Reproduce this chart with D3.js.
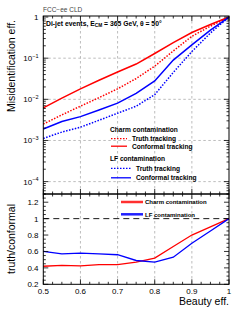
<!DOCTYPE html>
<html>
<head>
<meta charset="utf-8">
<script src="https://cdn.jsdelivr.net/npm/d3@7"></script>
<style>
  body { margin: 0; background: #fff; }
  text { font-family: "Liberation Sans", Arial, sans-serif; }
</style>
</head>
<body>
<svg id="chart" width="249" height="324"></svg>
<script>
// beauty efficiency points
var beautyEff = [0.5, 0.55, 0.6, 0.65, 0.7, 0.75, 0.8, 0.85, 0.9, 0.95, 1.0];

// misidentification efficiencies
var charmConformal = [0.0062, 0.0107, 0.018, 0.029, 0.046, 0.072, 0.13, 0.24, 0.42, 0.66, 1.0];
var charmTruth     = [0.0025, 0.0042, 0.0068, 0.011, 0.018, 0.032, 0.064, 0.15, 0.34, 0.6, 1.0];
var lfConformal    = [0.0019, 0.0029, 0.0038, 0.0055, 0.0081, 0.014, 0.028, 0.09, 0.21, 0.48, 1.0];
var lfTruth        = [0.00112, 0.0016, 0.0021, 0.0031, 0.0046, 0.0068, 0.013, 0.045, 0.145, 0.41, 1.0];

// truth / conformal ratio
var charmRatio = [0.42, 0.43, 0.425, 0.44, 0.44, 0.47, 0.52, 0.66, 0.80, 0.90, 1.0];
var lfRatio    = [0.60, 0.57, 0.58, 0.57, 0.56, 0.49, 0.47, 0.53, 0.70, 0.85, 1.0];

var xTicks = [0.5, 0.6, 0.7, 0.8, 0.9, 1.0];
var logTicks = [1, 1e-1, 1e-2, 1e-3, 1e-4];
var logTickLabels = ["1", "-1", "-2", "-3", "-4"];
var ratioTicks = [0.2, 0.4, 0.6, 0.8, 1.0, 1.2];

var svg = d3.select("#chart");

var left = 43.3, right = 229;
var upTop = 16, split = 194, lowBottom = 284.3;

var x = d3.scaleLinear().domain([0.5, 1.0]).range([left, right]);
var yUp = d3.scaleLog().domain([5e-5, 1.06]).range([split, upTop]);
var yLow = d3.scaleLinear().domain([0.2, 1.3]).range([lowBottom, split]);

var red = "#ff0000", blue = "#0000ff";

// ---- grid ----
var grid = svg.append("g").attr("stroke", "#a0a0a0").attr("stroke-width", 0.7)
  .attr("stroke-dasharray", "2.5,2.5");
[0.6, 0.7, 0.8, 0.9].forEach(function (v) {
  grid.append("line").attr("x1", x(v)).attr("x2", x(v)).attr("y1", upTop).attr("y2", lowBottom);
});
[1e-1, 1e-2, 1e-3, 1e-4].forEach(function (v) {
  grid.append("line").attr("x1", left).attr("x2", right).attr("y1", yUp(v)).attr("y2", yUp(v));
});

// ratio = 1 line
svg.append("line").attr("x1", left).attr("x2", right)
  .attr("y1", yLow(1)).attr("y2", yLow(1))
  .attr("stroke", "#000").attr("stroke-width", 0.9).attr("stroke-dasharray", "6,4");

// ---- curves ----
function series(vals, yScale) {
  return d3.line().x(function (d, i) { return x(beautyEff[i]); })
    .y(function (d) { return yScale(d); })(vals);
}
var curves = [
  { v: charmConformal, c: red, dash: null },
  { v: charmTruth, c: red, dash: "1.5,1.5" },
  { v: lfConformal, c: blue, dash: null },
  { v: lfTruth, c: blue, dash: "1.5,1.5" }
];
curves.forEach(function (cv) {
  svg.append("path").attr("d", series(cv.v, yUp)).attr("fill", "none")
    .attr("stroke", cv.c).attr("stroke-width", 1.5)
    .attr("stroke-dasharray", cv.dash);
});
svg.append("path").attr("d", series(charmRatio, yLow)).attr("fill", "none")
  .attr("stroke", red).attr("stroke-width", 1.3);
svg.append("path").attr("d", series(lfRatio, yLow)).attr("fill", "none")
  .attr("stroke", blue).attr("stroke-width", 1.3);

// ---- frames and ticks ----
var frame = svg.append("g").attr("stroke", "#000").attr("fill", "none");
frame.append("rect").attr("x", left).attr("y", upTop).attr("width", right - left).attr("height", split - upTop).attr("stroke-width", 1);
frame.append("rect").attr("x", left).attr("y", split).attr("width", right - left).attr("height", lowBottom - split).attr("stroke-width", 1);

var ticks = svg.append("g").attr("stroke", "#000").attr("stroke-width", 0.8);
// x ticks, both panels, top and bottom edges
d3.range(0, 21).forEach(function (k) {
  var v = 0.5 + k * 0.025;
  var major = k % 4 === 0;
  var len = major ? 5 : 2.5;
  var px = x(v);
  [[upTop, 1], [split, -1], [split, 1], [lowBottom, -1]].forEach(function (e) {
    ticks.append("line").attr("x1", px).attr("x2", px).attr("y1", e[0]).attr("y2", e[0] + e[1] * len);
  });
});
// log ticks
for (var dec = -5; dec <= 0; dec++) {
  for (var m = 1; m <= 9; m++) {
    var v = m * Math.pow(10, dec);
    if (v < 5e-5 || v > 1.06) continue;
    var len = m === 1 ? 5 : 2.5;
    var py = yUp(v);
    ticks.append("line").attr("x1", left).attr("x2", left + len).attr("y1", py).attr("y2", py);
    ticks.append("line").attr("x1", right).attr("x2", right - len).attr("y1", py).attr("y2", py);
  }
}
// ratio ticks
d3.range(0, 23).forEach(function (k) {
  var v = 0.2 + k * 0.05;
  var len = k % 4 === 0 ? 5 : 2.5;
  var py = yLow(v);
  ticks.append("line").attr("x1", left).attr("x2", left + len).attr("y1", py).attr("y2", py);
  ticks.append("line").attr("x1", right).attr("x2", right - len).attr("y1", py).attr("y2", py);
});

// ---- tick labels ----
var lab = svg.append("g").attr("font-size", 8).attr("fill", "#000");
xTicks.forEach(function (v) {
  lab.append("text").attr("x", x(v)).attr("y", 294).attr("text-anchor", "middle")
    .text(v === 1 ? "1" : v.toFixed(1));
});
logTicks.forEach(function (v, i) {
  var t = lab.append("text").attr("x", 38.5).attr("y", yUp(v) + 3).attr("text-anchor", "end");
  if (i === 0) { t.text("1"); return; }
  t.append("tspan").text("10");
  t.append("tspan").attr("font-size", 5.5).attr("dy", -3.5).text(logTickLabels[i].replace("-", "\u2212"));
});
ratioTicks.forEach(function (v) {
  lab.append("text").attr("x", 38.5).attr("y", yLow(v) + 3).attr("text-anchor", "end")
    .text(v === 1 ? "1" : v.toFixed(1));
});

// ---- axis titles ----
svg.append("text").attr("transform", "translate(15,66) rotate(-90)")
  .attr("text-anchor", "middle").attr("font-size", 10.5).text("Misidentification eff.");
svg.append("text").attr("transform", "translate(15,239) rotate(-90)")
  .attr("text-anchor", "middle").attr("font-size", 10.5).text("truth/conformal");
svg.append("text").attr("x", right).attr("y", 305).attr("text-anchor", "end")
  .attr("font-size", 10.5).text("Beauty eff.");

// ---- header texts ----
svg.append("text").attr("x", 43).attr("y", 11.5).attr("font-size", 6.5).attr("fill", "#444")
  .text("FCC\u2212ee CLD");
var hdr = svg.append("text").attr("x", 46).attr("y", 25.5).attr("font-size", 6.8).attr("font-weight", "bold");
hdr.append("tspan").text("Di-jet events, E");
hdr.append("tspan").attr("font-size", 4.8).attr("dy", 1.8).text("CM");
hdr.append("tspan").attr("dy", -1.8).text(" = 365 GeV,  \u03b8 = 50\u00b0");

// ---- legends ----
var leg = svg.append("g").attr("font-size", 6.6).attr("font-weight", "bold");
leg.append("text").attr("x", 110).attr("y", 131.5).text("Charm contamination");
leg.append("text").attr("x", 132).attr("y", 141).text("Truth tracking");
leg.append("text").attr("x", 132).attr("y", 148.5).text("Conformal tracking");
leg.append("text").attr("x", 110).attr("y", 160.5).text("LF contamination");
leg.append("text").attr("x", 136).attr("y", 170.8).text("Truth tracking");
leg.append("text").attr("x", 136).attr("y", 180.2).text("Conformal tracking");

var legLines = [
  { x1: 111, x2: 127, y: 138.7, c: red, dash: "1.5,1.5" },
  { x1: 111, x2: 127, y: 146.2, c: red, dash: null },
  { x1: 111, x2: 131, y: 168.3, c: blue, dash: "1.5,1.5" },
  { x1: 111, x2: 131, y: 177.8, c: blue, dash: null }
];
legLines.forEach(function (l) {
  svg.append("line").attr("x1", l.x1).attr("x2", l.x2).attr("y1", l.y).attr("y2", l.y)
    .attr("stroke", l.c).attr("stroke-width", 1.3).attr("stroke-dasharray", l.dash);
});

var leg2 = svg.append("g").attr("font-size", 6).attr("font-weight", "bold");
leg2.append("text").attr("x", 145).attr("y", 204.3).text("Charm contamination");
leg2.append("text").attr("x", 145).attr("y", 216.5).text("LF contamination");
svg.append("line").attr("x1", 121).attr("x2", 143).attr("y1", 202).attr("y2", 202)
  .attr("stroke", "#ff3030").attr("stroke-width", 2.5);
svg.append("line").attr("x1", 121).attr("x2", 143).attr("y1", 214.3).attr("y2", 214.3)
  .attr("stroke", "#2020ff").attr("stroke-width", 2.5);
</script>
</body>
</html>
